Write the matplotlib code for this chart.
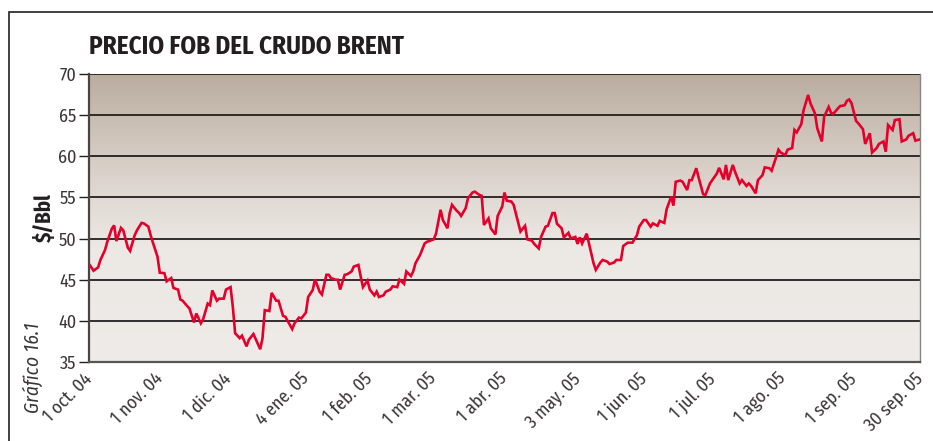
import numpy as np
import pandas as pd
import matplotlib
matplotlib.use("Agg")
import matplotlib.pyplot as plt
import matplotlib.dates as mdates
from matplotlib.colors import LinearSegmentedColormap
from matplotlib.patches import Rectangle

# Brent FOB price, US$ per barrel; days counted from 1 Oct 2004
start_date = "2004-10-01"
day_offset = [
    0, 2, 4, 5, 7, 8, 10, 11, 12, 14,
    15, 17, 18, 20, 21, 23, 24, 26, 27, 28,
    30, 31, 33, 34, 36, 37, 39, 40, 41, 43,
    44, 46, 47, 49, 50, 52, 53, 54, 56, 57,
    59, 60, 62, 63, 64, 66, 67, 69, 70, 72,
    73, 75, 76, 77, 79, 80, 82, 83, 85, 86,
    87, 89, 90, 92, 93, 95, 96, 98, 99, 101,
    102, 104, 105, 106, 108, 109, 110, 112, 113, 115,
    116, 118, 119, 120, 122, 123, 125, 126, 127,
    129, 130, 132, 133, 135, 136, 138, 139, 141, 142, 143,
    145, 147, 148, 150, 151, 152, 154, 155, 157, 158,
    159, 161, 162, 163, 165, 166, 168, 169, 171, 172,
    173, 175, 176, 178, 179, 181, 182, 183, 185, 186,
    188, 189, 191, 192, 194, 195, 197, 198, 200, 201,
    203, 204, 205, 207, 208, 210, 211, 213, 214, 215,
    216, 218, 219, 221, 222, 224, 225, 227, 228, 230,
    231, 233, 234, 236, 237, 238, 240, 241, 243, 244,
    246, 247, 249, 250, 252, 253, 255, 256, 257, 259,
    260, 262, 263, 264, 266, 267, 269, 270, 272, 273,
    275, 276, 278, 279, 280, 282, 283, 285, 286, 288,
    289, 290, 292, 293, 295, 296, 298, 299, 301, 302,
    303, 305, 306, 308, 309, 310, 312, 313, 315, 316,
    318, 319, 321, 322, 324, 325, 326, 328, 329, 331,
    332, 333, 334, 336, 337, 339, 340, 342, 343, 345,
    346, 348, 349, 350, 352, 353, 355, 356, 358, 359,
    361, 362, 364,
]
brent_usd = [
    46.9, 46.1, 46.5, 47.4, 48.6, 49.6, 51.2, 51.6, 49.7, 51.3,
    51.0, 48.9, 48.5, 50.4, 51.0, 51.9, 51.85, 51.45, 50.4, 49.5,
    47.8, 45.85, 45.8, 44.8, 45.2, 44.0, 43.8, 42.6, 42.45, 41.8,
    41.5, 39.8, 40.9, 39.7, 40.2, 42.1, 41.9, 43.7, 42.45, 42.7,
    42.7, 43.8, 44.1, 41.7, 38.5, 37.9, 38.2, 36.9, 37.7, 38.4,
    37.8, 36.55, 37.9, 41.3, 41.2, 43.4, 42.45, 42.45, 40.6, 40.5,
    40.0, 39.0, 39.7, 40.4, 40.3, 41.0, 42.9, 43.75, 45.05, 43.55,
    43.2, 45.6, 45.6, 45.2, 45.0, 45.0, 43.8, 45.6, 45.65, 46.0,
    46.6, 46.8, 45.4, 44.1, 44.9, 43.8, 43.1, 43.55, 42.9,
    43.1, 43.55, 43.8, 44.2, 44.1, 45.0, 44.5, 46.0, 45.45, 46.0, 47.0,
    48.0, 49.4, 49.6, 49.8, 49.9, 50.6, 53.5, 52.25, 51.25, 53.1,
    54.1, 53.4, 53.15, 52.75, 53.7, 54.9, 55.6, 55.7, 55.3, 55.2,
    51.65, 52.45, 51.25, 50.5, 52.75, 53.9, 55.6, 54.6, 54.5, 54.1,
    51.9, 50.85, 51.55, 49.9, 49.75, 49.35, 48.8, 50.2, 51.45, 51.55,
    53.1, 53.1, 51.8, 51.25, 50.15, 50.7, 50.0, 50.2, 49.35, 50.15,
    49.4, 50.6, 49.4, 47.0, 46.2, 47.1, 47.4, 47.2, 46.9, 47.1,
    47.4, 47.4, 49.1, 49.5, 49.5, 49.5, 50.4, 51.45, 52.25, 52.25,
    51.45, 51.85, 51.55, 52.15, 51.9, 53.55, 55.1, 54.0, 56.9, 57.05,
    56.9, 55.9, 57.1, 57.1, 58.55, 57.45, 55.4, 55.3, 56.7, 57.1,
    57.9, 58.6, 57.2, 58.95, 57.1, 58.95, 58.1, 56.7, 57.1, 56.4,
    56.7, 56.4, 55.5, 57.1, 57.7, 58.65, 58.55, 58.25, 59.9, 60.8,
    60.45, 60.15, 60.8, 61.0, 63.2, 62.9, 63.9, 65.6, 67.45, 66.45,
    65.2, 63.4, 61.8, 64.8, 66.0, 65.3, 65.15, 65.8, 66.1, 66.2,
    66.75, 66.9, 66.45, 64.3, 64.0, 63.3, 61.5, 62.8, 60.45, 61.0,
    61.5, 61.8, 60.55, 63.8, 63.2, 64.4, 64.5, 61.8, 62.05, 62.5,
    62.8, 61.9, 62.05,
]

tick_dates = [
    "2004-10-01", "2004-11-01", "2004-12-01", "2005-01-04", "2005-02-01",
    "2005-03-01", "2005-04-01", "2005-05-03", "2005-06-01", "2005-07-01",
    "2005-08-01", "2005-09-01", "2005-09-30",
]
tick_labels = [
    "1 oct. 04", "1 nov. 04", "1 dic. 04", "4 ene. 05", "1 feb. 05",
    "1 mar. 05", "1 abr. 05", "3 may. 05", "1 jun. 05", "1 jul. 05",
    "1 ago. 05", "1 sep. 05", "30 sep. 05",
]
y_ticks = [35, 40, 45, 50, 55, 60, 65, 70]

NARROW = ["Fira Sans Condensed", "DejaVu Sans"]
TEXT_DARK = "#231f20"
TEXT_GREY = "#3a3636"

dates = pd.Timestamp(start_date) + pd.to_timedelta(day_offset, unit="D")

fig = plt.figure(figsize=(9.33, 4.41), dpi=100)
ax = fig.add_axes([89 / 933, 1 - 362 / 441, (920 - 89) / 933, (362 - 74) / 441])

x0 = mdates.date2num(pd.Timestamp(tick_dates[0]))
x1 = mdates.date2num(pd.Timestamp(tick_dates[-1]))
ymin, ymax = y_ticks[0], y_ticks[-1]

# vertical warm-grey gradient behind the series
grad_cmap = LinearSegmentedColormap.from_list(
    "taupe",
    [(0.0, "#eeebe8"), (0.40, "#ece8e4"), (0.58, "#e0d9d3"),
     (0.75, "#d2c8bf"), (1.0, "#baada0")],
)
grad = np.linspace(0, 1, 256).reshape(-1, 1)
ax.imshow(grad, extent=[x0, x1, ymin, ymax], origin="lower", aspect="auto",
          cmap=grad_cmap, zorder=0, interpolation="bicubic")

for yv in y_ticks[1:]:
    ax.axhline(yv, color=TEXT_DARK, lw=1.3, zorder=1)

ax.plot(dates, brent_usd, color="#e4002b", lw=1.9, zorder=3,
        solid_joinstyle="miter")

ax.set_xlim(x0, x1)
ax.set_ylim(ymin, ymax)

ax.set_yticks(y_ticks)
ax.set_yticklabels([str(v) for v in y_ticks], family=NARROW, fontsize=13,
                   color=TEXT_GREY)
ax.tick_params(axis="y", length=7, width=1.0, color=TEXT_DARK, pad=2)

ax.set_xticks([mdates.date2num(pd.Timestamp(d)) for d in tick_dates])
ax.set_xticklabels(tick_labels, family=NARROW, fontsize=13, color=TEXT_GREY,
                   rotation=45, ha="right", va="center", rotation_mode="anchor")
ax.tick_params(axis="x", length=0, pad=10)

ax.spines["top"].set_visible(False)
ax.spines["left"].set_color("#4a4442")
ax.spines["left"].set_linewidth(1.6)
ax.spines["bottom"].set_color("#5a5452")
ax.spines["bottom"].set_linewidth(1.6)
ax.spines["right"].set_color("#8a8480")
ax.spines["right"].set_linewidth(1.0)

ax.set_ylabel("$/Bbl", family=NARROW, fontsize=15, fontweight="bold",
              color=TEXT_DARK, labelpad=2)

fig.text(89 / 933, 1 - 47 / 441, "PRECIO FOB DEL CRUDO BRENT", family=NARROW,
         fontsize=18, fontweight="bold", color=TEXT_DARK, ha="left",
         va="center")
fig.text(33 / 933, 1 - 368 / 441, "Gráfico 16.1", family=NARROW, fontsize=14,
         style="italic", color=TEXT_GREY, rotation=90, ha="center",
         va="center")

# outer frame of the panel
fig.add_artist(Rectangle((9 / 933, -0.1), 1.2, 1.1 - 12 / 441,
                         transform=fig.transFigure, fill=False,
                         edgecolor=TEXT_DARK, lw=1.2))

fig.savefig("out.png", dpi=100)
